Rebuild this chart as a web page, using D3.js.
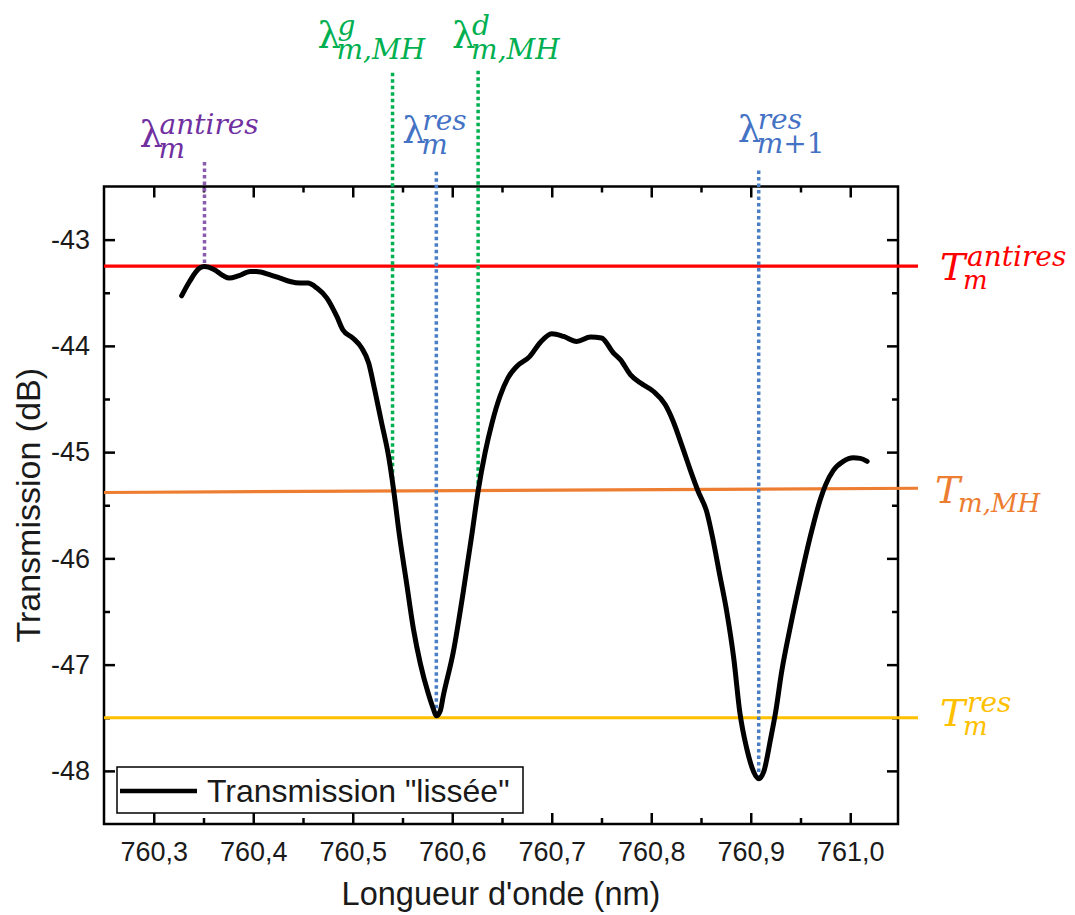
<!DOCTYPE html>
<html>
<head>
<meta charset="utf-8">
<script src="https://cdn.jsdelivr.net/npm/d3@7"></script>
<style>
  body { margin: 0; background: #fff; }
  svg { display: block; }
</style>
</head>
<body>
<div id="chart"></div>
<script>
// Smoothed transmission
const wavelength = [
  760.328, 760.336, 760.346, 760.351, 760.360, 760.370, 760.376, 760.385, 760.397, 760.403,
  760.417, 760.427, 760.437, 760.447, 760.455, 760.464, 760.474, 760.484, 760.490, 760.500,
  760.509, 760.516, 760.522, 760.529, 760.536, 760.541, 760.547, 760.554, 760.561, 760.568,
  760.576, 760.581, 760.584, 760.588, 760.591, 760.601, 760.611, 760.620, 760.626, 760.633,
  760.640, 760.648, 760.656, 760.665, 760.678, 760.688, 760.700, 760.712, 760.725, 760.739,
  760.750, 760.762, 760.769, 760.779, 760.789, 760.802, 760.814, 760.822, 760.831, 760.839,
  760.847, 760.856, 760.862, 760.869, 760.876, 760.883, 760.889, 760.896, 760.903, 760.908,
  760.913, 760.920, 760.925, 760.931, 760.940, 760.950, 760.960, 760.970, 760.975, 760.983,
  760.993, 761.003, 761.010, 761.017
];
const transmission = [
  -43.529, -43.394, -43.269, -43.254, -43.278, -43.341, -43.362, -43.341, -43.300, -43.300,
  -43.331, -43.362, -43.394, -43.409, -43.409, -43.456, -43.550, -43.723, -43.848, -43.926,
  -44.020, -44.161, -44.411, -44.724, -45.038, -45.350, -45.789, -46.226, -46.665, -46.993,
  -47.275, -47.416, -47.482, -47.435, -47.294, -46.884, -46.320, -45.757, -45.366, -45.006,
  -44.724, -44.474, -44.301, -44.192, -44.099, -43.973, -43.885, -43.911, -43.958, -43.916,
  -43.926, -44.067, -44.130, -44.270, -44.348, -44.427, -44.552, -44.709, -44.944, -45.162,
  -45.366, -45.569, -45.820, -46.164, -46.508, -46.946, -47.447, -47.791, -48.010, -48.073,
  -48.010, -47.697, -47.447, -47.071, -46.634, -46.195, -45.789, -45.444, -45.313, -45.172,
  -45.087, -45.054, -45.059, -45.087
];

const xTicks = [760.3, 760.4, 760.5, 760.6, 760.7, 760.8, 760.9, 761.0];
const xMinorTicks = [760.35, 760.45, 760.55, 760.65, 760.75, 760.85, 760.95];
const yTicks = [-43, -44, -45, -46, -47, -48];
const yMinorTicks = [-43.5, -44.5, -45.5, -46.5, -47.5];

// horizontal levels: T antires, T MH (slightly tilted), T res
const levelStart = [-43.25, -45.38, -47.5];
const levelEnd = [-43.25, -45.34, -47.5];
const levelLabels = [
  { base: "T", sup: "antires", sub: "m" },
  { base: "T", sup: "", sub: "m,MH" },
  { base: "T", sup: "res", sub: "m" }
];

// vertical wavelength markers
const markerLambda = [760.351, 760.540, 760.584, 760.626, 760.908];
const markerTop = [-42.27, -41.43, -42.36, -41.41, -42.35];
const markerBottom = [-43.254, -45.35, -47.48, -45.37, -48.07];
const markerLabels = [
  { base: "λ", sup: "antires", sub: "m" },
  { base: "λ", sup: "g", sub: "m,MH" },
  { base: "λ", sup: "res", sub: "m" },
  { base: "λ", sup: "d", sub: "m,MH" },
  { base: "λ", sup: "res", sub: "m+1" }
];

const legendText = "Transmission \"lissée\"";

// styles / layout
const levelColors = ["#ff0000", "#ed7d31", "#ffc000"];
const markerColors = ["#8a5cb0", "#00b050", "#4a7fc6", "#00b050", "#4a7fc6"];
const markerTextColors = ["#7030a0", "#00b050", "#4472c4", "#00b050", "#4472c4"];
const markerLabelDx = [-65, -75, -34, -26, -21];
const markerLabelY = [147, 48, 143, 48, 142];
const levelLabelDx = [22, 17, 22];
const levelLabelDy = [14, 15, 8];

const W = 1075, H = 915;
const plotL = 104, plotR = 898, plotT = 186.5, plotB = 824;
const levelXEnd = 918;

const svg = d3.select("#chart").append("svg")
  .attr("width", W)
  .attr("height", H);

const x = d3.scaleLinear().domain([760.25, 761.048]).range([plotL, plotR]);
const y = d3.scaleLinear().domain([-48.5, -42.5]).range([plotB, plotT]);

const locale = d3.formatLocale({ decimal: ",", thousands: " ", grouping: [3], currency: ["", ""], minus: "-" });
const fmtX = locale.format(".1f");
const fmtY = locale.format("d");

const sansFont = "'Liberation Sans', Arial, sans-serif";
const mathFont = "'DejaVu Serif', serif";

// axes (ticks point inwards, mirrored on top/right)
function styleAxis(g) {
  g.select(".domain").remove();
  g.selectAll(".tick line").attr("stroke", "#000").attr("stroke-width", 2.5);
  g.selectAll(".tick text").attr("fill", "#1a1a1a").attr("font-family", sansFont).attr("font-size", 27);
}

svg.append("g").attr("transform", `translate(0,${plotB})`)
  .call(d3.axisBottom(x).tickValues(xTicks).tickSize(-11).tickPadding(18).tickFormat(fmtX))
  .call(styleAxis);
svg.append("g").attr("transform", `translate(0,${plotB})`)
  .call(d3.axisBottom(x).tickValues(xMinorTicks).tickSize(-6).tickFormat(""))
  .call(styleAxis);
svg.append("g").attr("transform", `translate(0,${plotT})`)
  .call(d3.axisTop(x).tickValues(xTicks).tickSize(-11).tickFormat(""))
  .call(styleAxis);
svg.append("g").attr("transform", `translate(0,${plotT})`)
  .call(d3.axisTop(x).tickValues(xMinorTicks).tickSize(-6).tickFormat(""))
  .call(styleAxis);

svg.append("g").attr("transform", `translate(${plotL},0)`)
  .call(d3.axisLeft(y).tickValues(yTicks).tickSize(-11).tickPadding(14).tickFormat(fmtY))
  .call(styleAxis);
svg.append("g").attr("transform", `translate(${plotL},0)`)
  .call(d3.axisLeft(y).tickValues(yMinorTicks).tickSize(-6).tickFormat(""))
  .call(styleAxis);
svg.append("g").attr("transform", `translate(${plotR},0)`)
  .call(d3.axisRight(y).tickValues(yTicks).tickSize(-11).tickFormat(""))
  .call(styleAxis);
svg.append("g").attr("transform", `translate(${plotR},0)`)
  .call(d3.axisRight(y).tickValues(yMinorTicks).tickSize(-6).tickFormat(""))
  .call(styleAxis);

// frame
svg.append("rect")
  .attr("x", plotL).attr("y", plotT)
  .attr("width", plotR - plotL).attr("height", plotB - plotT)
  .attr("fill", "none").attr("stroke", "#000").attr("stroke-width", 2.5);

// axis titles
svg.append("text")
  .attr("x", (plotL + plotR) / 2).attr("y", 905)
  .attr("text-anchor", "middle")
  .attr("font-family", sansFont).attr("font-size", 32.5).attr("fill", "#1a1a1a")
  .text("Longueur d'onde (nm)");
svg.append("text")
  .attr("transform", `translate(40,${(plotT + plotB) / 2}) rotate(-90)`)
  .attr("text-anchor", "middle")
  .attr("font-family", sansFont).attr("font-size", 34).attr("fill", "#1a1a1a")
  .text("Transmission (dB)");

// horizontal level lines
levelStart.forEach((v, i) => {
  svg.append("line")
    .attr("x1", plotL).attr("x2", levelXEnd)
    .attr("y1", y(v)).attr("y2", y(levelEnd[i]))
    .attr("stroke", levelColors[i]).attr("stroke-width", 3.2);
});

// vertical dotted markers
markerLambda.forEach((v, i) => {
  svg.append("line")
    .attr("x1", x(v)).attr("x2", x(v))
    .attr("y1", y(markerTop[i])).attr("y2", y(markerBottom[i]))
    .attr("stroke", markerColors[i]).attr("stroke-width", 3.5)
    .attr("stroke-dasharray", "3.5,3");
});

// transmission curve
const pts = wavelength.map((w, i) => [w, transmission[i]]);
const line = d3.line()
  .x(d => x(d[0]))
  .y(d => y(d[1]))
  .curve(d3.curveMonotoneX);
svg.append("path")
  .datum(pts)
  .attr("d", line)
  .attr("fill", "none")
  .attr("stroke", "#000")
  .attr("stroke-width", 5)
  .attr("stroke-linejoin", "round")
  .attr("stroke-linecap", "round");

// math-like label in one text element: base glyph, superscript, subscript
function mathLabel(px, py, lab, color, isT, supDy, subDy) {
  const t = svg.append("text")
    .attr("fill", color)
    .attr("font-family", mathFont);
  t.append("tspan")
    .attr("x", px).attr("y", py)
    .attr("font-size", isT ? 38 : 37)
    .attr("font-style", isT ? "italic" : "normal")
    .text(lab.base);
  // scripts start where the base glyph ends
  const adv = isT ? 27 : 20;
  if (lab.sup) {
    t.append("tspan")
      .attr("x", px + adv).attr("y", py + supDy)
      .attr("font-size", 28).attr("font-style", "italic")
      .text(lab.sup);
  }
  const subX = px + adv - (isT ? 4 : 1);
  // letters italic, digits and signs upright
  lab.sub.split(/([0-9+]+)/).filter(s => s).forEach((s, k) => {
    const sp = t.append("tspan")
      .attr("font-size", isT ? 26 : 28)
      .attr("font-style", /[0-9+]/.test(s) ? "normal" : "italic")
      .text(s);
    if (k === 0) sp.attr("x", subX).attr("y", py + subDy);
  });
}

markerLabels.forEach((lab, i) => {
  mathLabel(x(markerLambda[i]) + markerLabelDx[i], markerLabelY[i], lab, markerTextColors[i], false, -13, 11);
});
levelLabels.forEach((lab, i) => {
  mathLabel(levelXEnd + levelLabelDx[i], y(levelEnd[i]) + levelLabelDy[i], lab, levelColors[i], true, -14, 9);
});

// legend
const legend = svg.append("g");
legend.append("rect")
  .attr("x", 117).attr("y", 767)
  .attr("width", 406).attr("height", 46)
  .attr("fill", "#fff").attr("stroke", "#000").attr("stroke-width", 1.5);
legend.append("line")
  .attr("x1", 120).attr("x2", 197)
  .attr("y1", 791).attr("y2", 791)
  .attr("stroke", "#000").attr("stroke-width", 4.5);
legend.append("text")
  .attr("x", 207).attr("y", 802)
  .attr("font-family", sansFont).attr("font-size", 32).attr("fill", "#1a1a1a")
  .text(legendText);
</script>
</body>
</html>
